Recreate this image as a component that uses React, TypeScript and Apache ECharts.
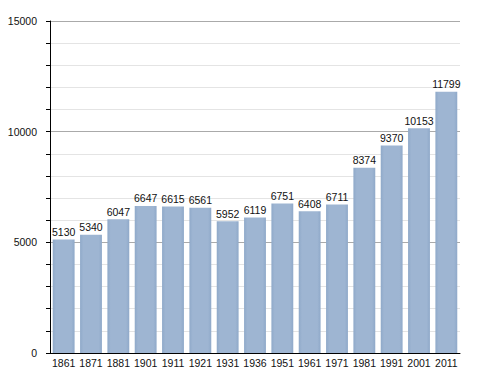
import React, { useEffect, useRef } from "react";
import * as echarts from "echarts";

const years = ["1861", "1871", "1881", "1901", "1911", "1921", "1931", "1936", "1951", "1961", "1971", "1981", "1991", "2001", "2011"];
const population = [5130, 5340, 6047, 6647, 6615, 6561, 5952, 6119, 6751, 6408, 6711, 8374, 9370, 10153, 11799];
const yMin = 0;
const yMax = 15000;
const yStep = 1000;
const labelStep = 5000;

export default function App() {
  const ref = useRef<HTMLDivElement>(null);
  useEffect(() => {
    if (!ref.current) return;
    const chart = echarts.init(ref.current, null, { renderer: "svg" });
    const font = "'Liberation Sans', Arial, sans-serif";
    chart.setOption({
      animation: false,
      backgroundColor: "#ffffff",
      grid: { left: 50, top: 21, right: 28, bottom: 20, containLabel: false },
      xAxis: {
        type: "category",
        data: years,
        axisLine: { show: true, lineStyle: { color: "#000", width: 1 } },
        axisTick: { show: false },
        axisLabel: { color: "#111", fontSize: 10.5, fontFamily: font, margin: 4, interval: 0 },
        splitLine: { show: false },
      },
      yAxis: {
        type: "value",
        min: yMin,
        max: yMax,
        interval: yStep,
        axisLine: { show: true, lineStyle: { color: "#000", width: 1 } },
        axisTick: { show: true, length: 4, lineStyle: { color: "#000" } },
        axisLabel: {
          color: "#111",
          fontSize: 10.5,
          fontFamily: font,
          margin: 13,
          formatter: (v: number) => (v % labelStep === 0 ? String(v) : ""),
        },
        splitLine: {
          show: true,
          lineStyle: { color: ["#aaaaaa", "#e4e4e4", "#e4e4e4", "#e4e4e4", "#e4e4e4"], width: 1 },
        },
      },
      series: [
        {
          type: "bar",
          data: population,
          barCategoryGap: "20%",
          itemStyle: {
            color: new echarts.graphic.LinearGradient(0, 0, 1, 0, [
              { offset: 0, color: "#8fa9c9" },
              { offset: 0.15, color: "#9eb5d2" },
              { offset: 0.85, color: "#9eb5d2" },
              { offset: 1, color: "#8fa9c9" },
            ]),
          },
          label: {
            show: true,
            position: "top",
            distance: 2,
            color: "#111",
            fontSize: 10.5,
            fontFamily: font,
          },
        },
      ],
    });
    return () => chart.dispose();
  }, []);
  return <div ref={ref} style={{ width: 488, height: 373, position: "absolute", left: 0, top: 0 }} />;
}
